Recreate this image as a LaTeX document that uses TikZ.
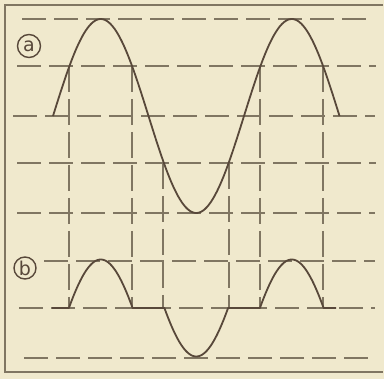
\documentclass[tikz,border=0pt]{standalone}
\usepackage{fontspec}
\setsansfont{DejaVu Sans}
\usetikzlibrary{positioning}
\begin{document}
\begin{tikzpicture}[x=1pt, y=-1pt, font=\sffamily]

		% Farben definieren
		\definecolor{papier}{RGB}{240,233,205}
		\definecolor{raster}{RGB}{128,118,98}
		\definecolor{kurve}{RGB}{88,72,58}

		% Hintergrund und Rahmen
		\fill[papier] (0,0) rectangle (384,379);
		\draw[raster, line width=1.4pt] (383,5) -- (5,5) -- (5,372) -- (383,372);

		% --- Raster (waagerecht) ---
		\draw[raster, line width=1.1pt, dash pattern=on 24pt off 8pt] (22,19) -- (372,19);
		\draw[raster, line width=1.1pt, dash pattern=on 24pt off 8pt] (17,66) -- (376,66);
		\draw[raster, line width=1.1pt, dash pattern=on 24pt off 8pt] (13,116) -- (375,116);
		\draw[raster, line width=1.1pt, dash pattern=on 24pt off 8pt] (17,163) -- (376,163);
		\draw[raster, line width=1.1pt, dash pattern=on 24pt off 8pt] (17,213) -- (375,213);
		\draw[raster, line width=1.1pt, dash pattern=on 24pt off 8pt] (44,261) -- (375,261);
		\draw[raster, line width=1.1pt, dash pattern=on 24pt off 8pt] (19,308) -- (375,308);
		\draw[raster, line width=1.1pt, dash pattern=on 24pt off 8pt] (24,358) -- (372,358);

		% --- Raster (senkrecht) ---
		\draw[raster, line width=1.1pt, dash pattern=on 26pt off 7pt] (69,66) -- (69,308);
		\draw[raster, line width=1.1pt, dash pattern=on 26pt off 7pt] (132,66) -- (132,308);
		\draw[raster, line width=1.1pt, dash pattern=on 26pt off 7pt] (163,163) -- (163,308);
		\draw[raster, line width=1.1pt, dash pattern=on 26pt off 7pt] (229,163) -- (229,308);
		\draw[raster, line width=1.1pt, dash pattern=on 26pt off 7pt] (260,66) -- (260,308);
		\draw[raster, line width=1.1pt, dash pattern=on 26pt off 7pt] (323,66) -- (323,308);

		% --- Kurve a: Sinus ---
		\draw[kurve, line width=1.8pt, line join=round] plot[domain=0:540, samples=150, smooth]
			({53+0.5306*\x}, {116-97*sin(\x)});

		% --- Kurve b: abgeschnittene Kuppen ---
		\draw[kurve, line width=1.8pt, line join=round] (52,308)
			-- plot[domain=30:150, samples=40, smooth] ({53+0.5306*\x}, {308-97*(sin(\x)-0.5)})
			-- plot[domain=210:330, samples=40, smooth] ({53+0.5306*\x}, {308-97*(sin(\x)+0.5)})
			-- plot[domain=390:510, samples=40, smooth] ({53+0.5306*\x}, {308-97*(sin(\x)-0.5)})
			-- (336,308);

		% Beschriftung
		\node[circle, draw=kurve, line width=1.4pt, inner sep=0pt, minimum size=23pt, text=kurve, font=\sffamily\fontsize{19}{19}\selectfont] (la) at (29,46) {a};
		\node[circle, draw=kurve, line width=1.4pt, inner sep=0pt, minimum size=22pt, text=kurve, font=\sffamily\fontsize{19}{19}\selectfont] (lb) at (25,268) {b};

	\end{tikzpicture}
\end{document}
